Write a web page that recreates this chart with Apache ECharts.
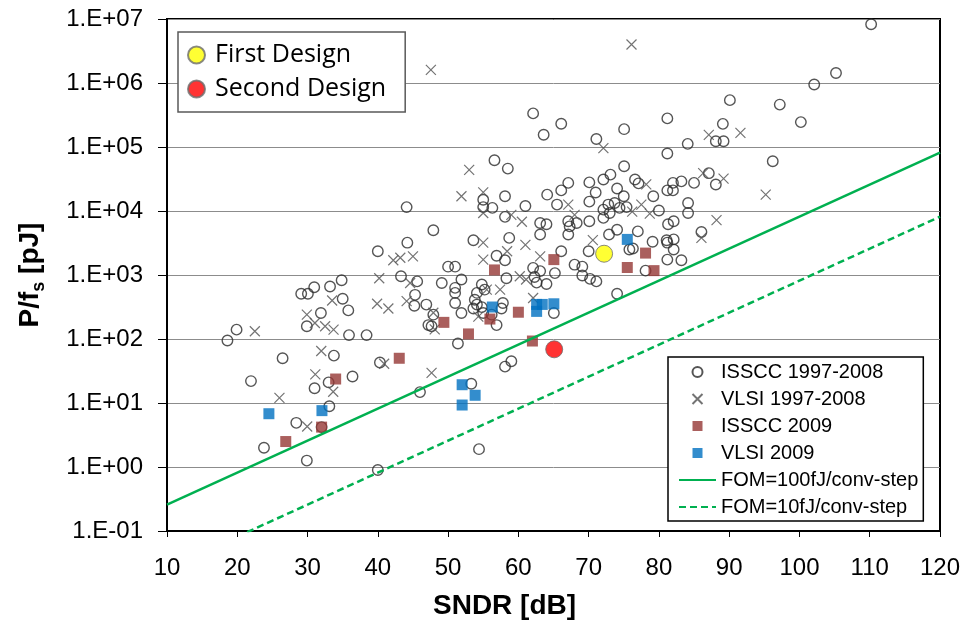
<!DOCTYPE html>
<html>
<head>
<meta charset="utf-8">
<style>
  html, body { margin: 0; padding: 0; background: #fff; }
  #chart { width: 966px; height: 633px; }
</style>
<script src="https://cdn.jsdelivr.net/npm/echarts@6/dist/echarts.min.js"></script>
</head>
<body>
<div id="chart"></div>
<script>
// ADC energy per conversion vs. SNDR survey, [SNDR dB, P/fs pJ]
const isscc9708 = [
  [62.1,335000],[66.1,231000],[63.6,155000],[71.1,133000],[75.05,190000],
  [56.6,62000],[58.5,46000],[67.1,27500],[70.1,28000],[72.1,31000],[73.1,37000],[75.05,50000],[76.6,31000],[77.1,27000],
  [58.1,17000],[64.1,18000],[66.1,21000],[71.0,19500],[74.05,22500],[75.0,17000],[79.2,17000],
  [110.2,8300000],[105.2,1430000],[102.1,950000],[90.1,540000],[97.2,460000],[100.2,245000],[81.2,280000],[89.1,230000],
  [88.1,123000],[89.2,123000],[84.1,112000],[81.2,79000],[96.2,60000],[87.1,39000],[88.1,26000],[85.0,27500],[83.2,29000],[82.0,27500],[81.2,21000],[82.0,21000],
  [44.1,11500],[44.2,3200],[40.0,2350],[43.3,955],[45.6,795],[45.3,490],[45.2,330],
  [34.85,830],[33.2,660],[30.95,645],[29.1,510],[30.05,510],[35.0,425],[35.8,280],[31.9,255],[29.9,158],[35.9,115],[38.4,115],
  [19.9,140],[18.6,95],[26.45,50],[33.75,55],[40.3,43],[21.95,22],[33.0,21],[36.4,26],[31.0,17],[33.1,8.9],[28.4,4.9],[32.0,4.2],[23.8,2.0],[29.9,1.26],[40.0,0.9],
  [46.0,14.8],[53.3,20],[54.4,1.9],
  [55.0,15000],[55.0,11500],[56.3,11200],[61.0,12000],[65.5,12600],[70.1,14000],[72.1,10500],[72.8,12600],[73.7,13300],[73.0,9300],[74.4,11200],[75.4,11500],
  [58.1,8100],[63.1,6500],[64.0,6200],[63.1,4300],[67.1,6900],[67.3,5750],[67.1,4300],[68.3,6500],[70.1,6900],[72.1,7800],
  [47.9,5000],[53.6,3500],[58.7,3800],[56.9,2000],[58.1,1700],[50.0,1350],[51.0,1350],[66.1,2350],[68.0,1450],[69.1,1350],[70.0,2350],[72.9,4300],[74.05,5100],[75.8,2500],[76.3,2600],[77.0,4800],[79.1,3300],[78.1,1170],
  [69.1,980],[70.2,870],[71.1,795],[62.1,1290],[63.1,1150],[62.3,930],[62.6,760],[64.0,725],[65.2,1070],[58.3,890],[51.9,850],[49.1,750],[51.0,630],[51.0,525],[54.8,710],[54.1,525],[53.8,410],[55.2,590],[57.8,365],[46.9,345],[51.0,365],[54.1,345],[54.8,315],[53.6,300],[55.0,255],[56.2,240],[57.6,300],[51.9,255],[56.9,165],[47.9,240],[47.2,165],[47.65,158],[51.4,85],[65.05,255],[74.05,510],[58.1,37],[59.0,45],
  [84.15,13300],[84.15,9300],[86.05,4700],[81.3,6200],[82.1,6900],[80.0,10200],[81.1,3500],[81.2,3200],[82.1,3600],[82.1,2500],[81.2,1740],[83.2,1700]
];
const vlsi9708 = [
  [47.55,1600000],[76.1,4000000],[72.1,96000],[53.0,44000],[78.2,26000],[55.0,19500],[51.9,17000],[87.1,155000],[91.6,166000],[86.3,39000],[89.2,32000],[95.2,18000],
  [42.2,1700],[43.2,1860],[45.0,1950],[40.2,890],[44.6,750],[44.1,390],[39.9,355],[41.5,300],[33.5,400],[29.9,240],[31.05,178],[32.5,158],[33.7,140],[22.5,132],[31.95,65],[40.9,41],[31.1,28],[26.0,12],[33.65,15],[29.95,4.3],
  [55.0,9300],[67.1,12600],[68.0,8700],[76.2,9800],[77.5,12600],[78.7,9100],[59.0,8700],[60.5,6800],[55.0,3200],[61.0,2950],[58.4,2350],[55.0,1740],[63.1,1950],[70.6,3500],[60.2,955],[61.1,850],[55.5,590],[57.4,590],[54.3,224],[48.1,141],[47.9,257],[62.1,437],[88.2,7200],[86.05,3800],[47.65,29.5]
];
const isscc2009 = [
  [43.05,50],[34.0,23.7],[32.0,4.2],[26.9,2.5],[56.6,1200],[65.05,1740],[78.1,2200],[75.5,1310],[79.3,1170],[55.95,205],[49.4,182],[60.0,262],[52.9,120],[62.0,93]
];
const vlsi2009 = [
  [24.5,6.8],[32.05,7.6],[52.0,19.3],[53.85,13.2],[52.0,9.3],[56.3,316],[62.6,347],[63.4,347],[62.6,270],[65.05,355],[75.5,3600]
];
// Constant figure-of-merit lines (straight on a log-linear plot)
const fom100 = [[10,0.258],[120,81600]];
const fom10 = [[10,0.0258],[120,8160]];
const firstDesign = [[72.2,2150]];
const secondDesign = [[65.1,69]];

const yTickLabels = ['1.E-01','1.E+00','1.E+01','1.E+02','1.E+03','1.E+04','1.E+05','1.E+06','1.E+07'];

const crossPath = 'path://M0,0L10,10M10,0L0,10';
const squarePath = 'path://M0,0H10V10H0Z';
const green = '#00B050';
const hiddenMarker = { color: 'rgba(0,0,0,0)', borderWidth: 0, opacity: 0 };

const chart = echarts.init(document.getElementById('chart'), null, { renderer: 'canvas' });
chart.setOption({
  animation: false,
  backgroundColor: '#fff',
  textStyle: { fontFamily: 'Liberation Sans, Arial, sans-serif' },
  grid: { left: 167, right: 26, top: 19, bottom: 102, show: true, borderColor: '#000', borderWidth: 2, backgroundColor: 'transparent' },
  xAxis: {
    type: 'value', min: 10, max: 120, interval: 10,
    axisLine: { onZero: false, lineStyle: { color: '#000', width: 2 } },
    axisTick: { show: true, length: 6, lineStyle: { color: '#000', width: 1 } },
    axisLabel: { color: '#000', fontSize: 24, margin: 25, fontFamily: 'Liberation Sans' },
    splitLine: { show: false }
  },
  yAxis: {
    type: 'log', logBase: 10, min: 0.1, max: 1e7, splitNumber: 8,
    axisLine: { show: true, lineStyle: { color: '#000', width: 2 } },
    axisTick: { show: true, length: 9, lineStyle: { color: '#000', width: 1 } },
    axisLabel: {
      color: '#000', fontSize: 24, margin: 24, fontFamily: 'Liberation Sans',
      formatter: v => yTickLabels[Math.round(Math.log10(v)) + 1]
    },
    splitLine: { show: true, lineStyle: { color: '#8c8c8c', width: 1 } }
  },
  legend: [
    {
      data: ['First Design', 'Second Design'],
      orient: 'vertical', left: 178, top: 32,
      backgroundColor: '#fff', borderColor: '#595959', borderWidth: 1.5,
      padding: [8, 19, 8, 9],
      itemWidth: 17, itemHeight: 17, itemGap: 4,
      textStyle: { fontFamily: 'Open Sans', fontSize: 25, color: '#000', lineHeight: 30, padding: [0, 0, 0, 5] },
      selectedMode: false
    },
    {
      data: [
        { name: 'ISSCC 1997-2008' },
        { name: 'VLSI 1997-2008' },
        { name: 'ISSCC 2009', icon: squarePath },
        { name: 'VLSI 2009', icon: squarePath },
        { name: 'FOM=100fJ/conv-step', itemStyle: hiddenMarker },
        { name: 'FOM=10fJ/conv-step', itemStyle: hiddenMarker }
      ],
      orient: 'vertical', left: 668, top: 357,
      backgroundColor: '#fff', borderColor: '#000', borderWidth: 1.5,
      padding: [5, 5, 4, 10],
      itemWidth: 37, itemHeight: 10, itemGap: 7,
      textStyle: { fontFamily: 'Liberation Sans', fontSize: 20, color: '#000', lineHeight: 20 },
      selectedMode: false
    }
  ],
  graphic: [
    {
      type: 'text', left: 433, top: 592,
      style: { text: 'SNDR [dB]', font: 'bold 28px "Liberation Sans"', fill: '#000' }
    },
    {
      type: 'text', x: 28, y: 275, rotation: Math.PI / 2,
      style: {
        text: '{a|P/f}{b|s}{a| [pJ]}', align: 'center', verticalAlign: 'middle',
        rich: {
          a: { font: 'bold 28px "Liberation Sans"', fill: '#000', lineHeight: 32, verticalAlign: 'bottom' },
          b: { font: 'bold 18px "Liberation Sans"', fill: '#000', lineHeight: 32, verticalAlign: 'bottom', padding: [0, 0, -4, 0] }
        }
      }
    }
  ],
  series: [
    {
      name: 'ISSCC 1997-2008', type: 'scatter', data: isscc9708, z: 2,
      symbol: 'circle', symbolSize: 10.5,
      itemStyle: { color: 'rgba(255,255,255,0)', borderColor: '#2b2b2b', borderWidth: 1.4 }
    },
    {
      name: 'VLSI 1997-2008', type: 'scatter', data: vlsi9708, z: 3,
      symbol: crossPath, symbolSize: 10,
      itemStyle: { color: 'rgba(255,255,255,0)', borderColor: '#505050', borderWidth: 1.2 }
    },
    {
      name: 'ISSCC 2009', type: 'scatter', data: isscc2009, z: 4,
      symbol: 'rect', symbolSize: 11,
      itemStyle: { color: '#953735' }
    },
    {
      name: 'VLSI 2009', type: 'scatter', data: vlsi2009, z: 4,
      symbol: 'rect', symbolSize: 11,
      itemStyle: { color: '#0070C0' }
    },
    {
      name: 'FOM=100fJ/conv-step', type: 'line', data: fom100, z: 5,
      symbol: 'none', clip: true,
      lineStyle: { color: green, width: 2.5 }, itemStyle: { color: green }
    },
    {
      name: 'FOM=10fJ/conv-step', type: 'line', data: fom10, z: 5,
      symbol: 'none', clip: true,
      lineStyle: { color: green, width: 2.5, type: [7, 4] }, itemStyle: { color: green }
    },
    {
      name: 'First Design', type: 'scatter', data: firstDesign, z: 6,
      symbol: 'circle', symbolSize: 17,
      itemStyle: { color: '#FFFF00', borderColor: '#6d6d6d', borderWidth: 1 }
    },
    {
      name: 'Second Design', type: 'scatter', data: secondDesign, z: 6,
      symbol: 'circle', symbolSize: 17,
      itemStyle: { color: '#FF0000', borderColor: '#6d6d6d', borderWidth: 1 }
    }
  ]
});
</script>
</body>
</html>
